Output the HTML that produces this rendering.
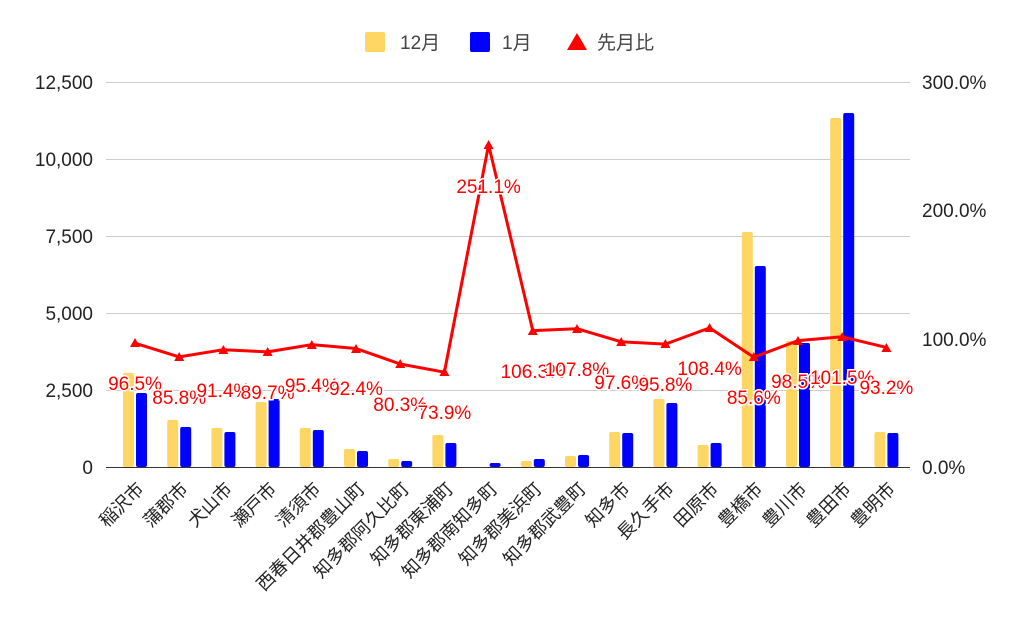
<!DOCTYPE html>
<html><head><meta charset="utf-8"><style>
html,body{margin:0;padding:0;background:#fff;}
svg{display:block;font-family:"Liberation Sans","Noto Sans CJK JP",sans-serif;}
.lbl{fill:#ff0000;font-size:19px;text-anchor:middle;stroke:#fff;stroke-width:3px;paint-order:stroke;}
.ax{fill:#222;font-size:19px;}
.lg{fill:#444;font-size:19px;}
.xl{fill:#222;font-size:18px;text-anchor:end;}
</style></head><body>
<svg width="1024" height="633" viewBox="0 0 1024 633">
<rect width="1024" height="633" fill="#fff"/>
<!-- legend -->
<rect x="365" y="32" width="20" height="20" rx="2" fill="#fdd663"/>
<text x="400" y="49" class="lg">12月</text>
<rect x="470" y="32" width="20" height="20" rx="2" fill="#0000ff"/>
<text x="502" y="49" class="lg">1月</text>
<polygon points="577,33 587,50 567,50" fill="#ff0000"/>
<text x="597" y="49" class="lg">先月比</text>
<!-- grid -->
<g stroke="#cccccc" stroke-width="1">
<line x1="106" y1="82.5" x2="910" y2="82.5"/>
<line x1="106" y1="159.5" x2="910" y2="159.5"/>
<line x1="106" y1="236.5" x2="910" y2="236.5"/>
<line x1="106" y1="313.5" x2="910" y2="313.5"/>
<line x1="106" y1="390.5" x2="910" y2="390.5"/>
</g>
<!-- axis labels -->
<g class="ax" text-anchor="end">
<text x="93" y="89">12,500</text>
<text x="93" y="166">10,000</text>
<text x="93" y="243">7,500</text>
<text x="93" y="320">5,000</text>
<text x="93" y="397">2,500</text>
<text x="93" y="474">0</text>
</g>
<g class="ax">
<text x="922" y="89">300.0%</text>
<text x="922" y="217">200.0%</text>
<text x="922" y="346">100.0%</text>
<text x="922" y="474">0.0%</text>
</g>
<!-- bars -->
<g fill="#fdd663">
<rect x="123" y="373" width="11" height="94" rx="2"/>
<rect x="167.2" y="420" width="11" height="47" rx="2"/>
<rect x="211.4" y="428" width="11" height="39" rx="2"/>
<rect x="255.6" y="402" width="11" height="65" rx="2"/>
<rect x="299.8" y="428" width="11" height="39" rx="2"/>
<rect x="344" y="449" width="11" height="18" rx="2"/>
<rect x="388.2" y="459" width="11" height="8" rx="2"/>
<rect x="432.4" y="435" width="11" height="32" rx="2"/>
<rect x="520.8" y="461" width="11" height="6" rx="2"/>
<rect x="565" y="456" width="11" height="11" rx="2"/>
<rect x="609.2" y="432" width="11" height="35" rx="2"/>
<rect x="653.4" y="399" width="11" height="68" rx="2"/>
<rect x="697.6" y="445" width="11" height="22" rx="2"/>
<rect x="741.8" y="232" width="11" height="235" rx="2"/>
<rect x="786" y="341" width="11" height="126" rx="2"/>
<rect x="830.2" y="118" width="11" height="349" rx="2"/>
<rect x="874.4" y="432" width="11" height="35" rx="2"/>
</g>
<g fill="#0000ff">
<rect x="136" y="393" width="11" height="74" rx="2"/>
<rect x="180.2" y="427" width="11" height="40" rx="2"/>
<rect x="224.4" y="432" width="11" height="35" rx="2"/>
<rect x="268.6" y="399" width="11" height="68" rx="2"/>
<rect x="312.8" y="430" width="11" height="37" rx="2"/>
<rect x="357" y="451" width="11" height="16" rx="2"/>
<rect x="401.2" y="461" width="11" height="6" rx="2"/>
<rect x="445.4" y="443" width="11" height="24" rx="2"/>
<rect x="489.6" y="463" width="11" height="4" rx="2"/>
<rect x="533.8" y="459" width="11" height="8" rx="2"/>
<rect x="578" y="455" width="11" height="12" rx="2"/>
<rect x="622.2" y="433" width="11" height="34" rx="2"/>
<rect x="666.4" y="403" width="11" height="64" rx="2"/>
<rect x="710.6" y="443" width="11" height="24" rx="2"/>
<rect x="754.8" y="266" width="11" height="201" rx="2"/>
<rect x="799" y="343" width="11" height="124" rx="2"/>
<rect x="843.2" y="113" width="11" height="354" rx="2"/>
<rect x="887.4" y="433" width="11" height="34" rx="2"/>
</g>
<line x1="106" y1="467.5" x2="910" y2="467.5" stroke="#333" stroke-width="1"/>
<!-- line -->
<polyline fill="none" stroke="#ff0000" stroke-width="3" stroke-linejoin="round" points="135,343.2 179.2,356.9 223.4,349.7 267.6,351.9 311.8,344.6 356,348.5 400.2,364 444.4,372.2 488.6,144.8 532.8,330.6 577,328.7 621.2,341.8 665.4,344.1 709.6,327.9 753.8,357.2 798,340.6 842.2,336.8 886.4,347.4"/>
<g fill="#ff0000">
<polygon points="135,338 140,347 130,347"/>
<polygon points="179.2,352 184.2,361 174.2,361"/>
<polygon points="223.4,345 228.4,354 218.4,354"/>
<polygon points="267.6,347 272.6,356 262.6,356"/>
<polygon points="311.8,340 316.8,349 306.8,349"/>
<polygon points="356,344 361,353 351,353"/>
<polygon points="400.2,359 405.2,368 395.2,368"/>
<polygon points="444.4,367 449.4,376 439.4,376"/>
<polygon points="488.6,140 493.6,149 483.6,149"/>
<polygon points="532.8,326 537.8,335 527.8,335"/>
<polygon points="577,324 582,333 572,333"/>
<polygon points="621.2,337 626.2,346 616.2,346"/>
<polygon points="665.4,339 670.4,348 660.4,348"/>
<polygon points="709.6,323 714.6,332 704.6,332"/>
<polygon points="753.8,352 758.8,361 748.8,361"/>
<polygon points="798,336 803,345 793,345"/>
<polygon points="842.2,332 847.2,341 837.2,341"/>
<polygon points="886.4,343 891.4,352 881.4,352"/>
</g>
<!-- data labels -->
<text class="lbl" x="135" y="390">96.5%</text>
<text class="lbl" x="179.2" y="404">85.8%</text>
<text class="lbl" x="223.4" y="397">91.4%</text>
<text class="lbl" x="267.6" y="399">89.7%</text>
<text class="lbl" x="311.8" y="392">95.4%</text>
<text class="lbl" x="356" y="395">92.4%</text>
<text class="lbl" x="400.2" y="411">80.3%</text>
<text class="lbl" x="444.4" y="419">73.9%</text>
<text class="lbl" x="488.6" y="193">251.1%</text>
<text class="lbl" x="532.8" y="378">106.3%</text>
<text class="lbl" x="577" y="376">107.8%</text>
<text class="lbl" x="621.2" y="389">97.6%</text>
<text class="lbl" x="665.4" y="391">95.8%</text>
<text class="lbl" x="709.6" y="375">108.4%</text>
<text class="lbl" x="753.8" y="404">85.6%</text>
<text class="lbl" x="798" y="388">98.5%</text>
<text class="lbl" x="842.2" y="384">101.5%</text>
<text class="lbl" x="886.4" y="394">93.2%</text>
<!-- x labels -->
<g class="xl">
<text transform="translate(145,490) rotate(-45)">稲沢市</text>
<text transform="translate(189.2,490) rotate(-45)">蒲郡市</text>
<text transform="translate(233.4,490) rotate(-45)">犬山市</text>
<text transform="translate(277.6,490) rotate(-45)">瀬戸市</text>
<text transform="translate(321.8,490) rotate(-45)">清須市</text>
<text transform="translate(366,490) rotate(-45)">西春日井郡豊山町</text>
<text transform="translate(410.2,490) rotate(-45)">知多郡阿久比町</text>
<text transform="translate(454.4,490) rotate(-45)">知多郡東浦町</text>
<text transform="translate(498.6,490) rotate(-45)">知多郡南知多町</text>
<text transform="translate(542.8,490) rotate(-45)">知多郡美浜町</text>
<text transform="translate(587,490) rotate(-45)">知多郡武豊町</text>
<text transform="translate(631.2,490) rotate(-45)">知多市</text>
<text transform="translate(675.4,490) rotate(-45)">長久手市</text>
<text transform="translate(719.6,490) rotate(-45)">田原市</text>
<text transform="translate(763.8,490) rotate(-45)">豊橋市</text>
<text transform="translate(808,490) rotate(-45)">豊川市</text>
<text transform="translate(852.2,490) rotate(-45)">豊田市</text>
<text transform="translate(896.4,490) rotate(-45)">豊明市</text>
</g>
</svg>
</body></html>
